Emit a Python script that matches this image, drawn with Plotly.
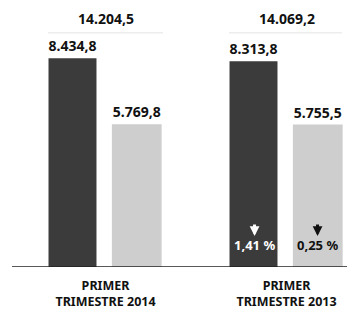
import plotly.graph_objects as go

categories = ["PRIMER<br>TRIMESTRE 2014", "PRIMER<br>TRIMESTRE 2013"]
serie_a = [8434.8, 8313.8]
serie_b = [5769.8, 5755.5]
totales = [14204.5, 14069.2]
labels_a = ["8.434,8", "8.313,8"]
labels_b = ["5.769,8", "5.755,5"]
labels_tot = ["14.204,5", "14.069,2"]
var_a = ["", "1,41 %"]
var_b = ["", "0,25 %"]

FONT = "Noto Sans"
dark = "#3b3b3b"
light = "#cecece"

fig = go.Figure()
fig.add_bar(x=categories, y=serie_a, width=0.265, offset=-0.315,
            marker=dict(color=dark, line=dict(width=0)),
            text=labels_a, texttemplate="<b>%{text}</b>",
            textposition="outside", cliponaxis=False,
            textfont=dict(family=FONT, size=14, color="#111111"))
fig.add_bar(x=categories, y=serie_b, width=0.275, offset=0.035,
            marker=dict(color=light, line=dict(width=0)),
            text=labels_b, texttemplate="<b>%{text}</b>",
            textposition="outside", cliponaxis=False,
            textfont=dict(family=FONT, size=14, color="#111111"))

# totals above each group
for c, t in zip(categories, labels_tot):
    fig.add_annotation(x=c, y=1, yref="paper", yanchor="top", yshift=-7,
                       text="<b>%s</b>" % t, showarrow=False,
                       font=dict(family=FONT, size=14, color="#111111"))

# faint lines under totals
for x0, x1 in [(48, 163), (229, 342)]:
    fig.add_shape(type="line", xref="paper", yref="paper",
                  x0=x0/347, x1=x1/347, y0=1-33/270, y1=1-33/270,
                  line=dict(color="#ededed", width=1.5))

# percentage changes inside bars
for vals, shift, col in [(var_a, -32, "white"), (var_b, 31, "#111111")]:
    for c, v in zip(categories, vals):
        if v:
            fig.add_annotation(x=c, y=0, xshift=shift, yshift=11, yanchor="bottom",
                               text="<b>%s</b>" % v, showarrow=False,
                               font=dict(family=FONT, size=13, color=col))
            fig.add_annotation(x=c, y=0, xshift=shift, yshift=31, text="",
                               showarrow=True, ax=0, ay=-13, arrowhead=2,
                               arrowsize=0.65, arrowwidth=3, arrowcolor=col)

# baseline
fig.add_shape(type="line", xref="paper", yref="y", x0=12/347, x1=1, y0=0, y1=0,
              line=dict(color="#222222", width=1.5))

fig.update_layout(
    width=347, height=310,
    margin=dict(l=0, r=0, t=0, b=40),
    paper_bgcolor="white", plot_bgcolor="white",
    showlegend=False,
    xaxis=dict(range=[-0.583, 1.334], showgrid=False, zeroline=False,
               showline=False, ticks="",
               tickfont=dict(family=FONT, size=12.5, color="#111111"),
               ticklabelstandoff=9),
    yaxis=dict(range=[0, 10793], visible=False),
)
fig.update_xaxes(tickvals=categories,
                 ticktext=["<b>%s</b>" % c for c in categories])

fig.write_html("out.html", config={"displayModeBar": False},
               post_script="document.body.style.margin='0';document.body.style.overflow='hidden';")
